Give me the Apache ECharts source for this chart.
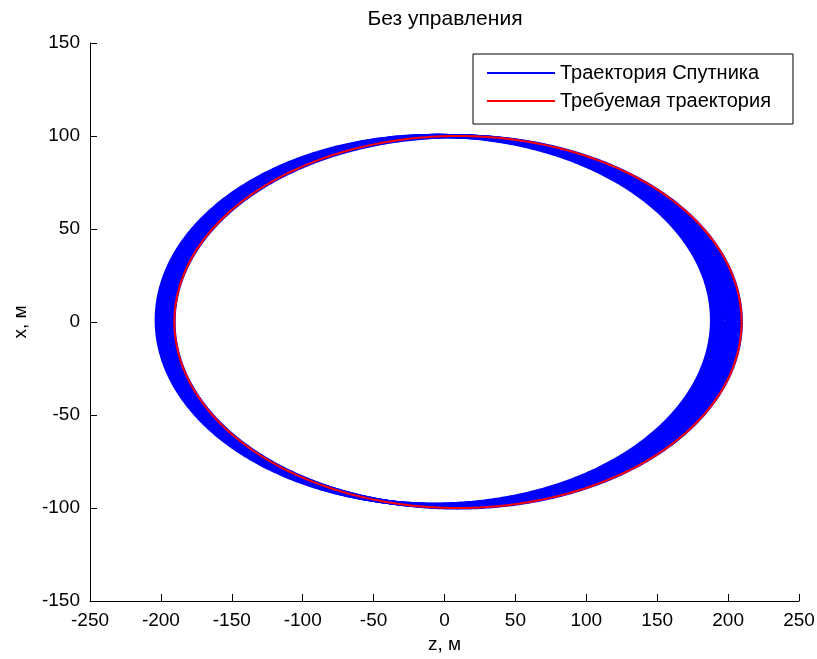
<!DOCTYPE html>
<html>
<head>
<meta charset="utf-8">
<script src="https://cdn.jsdelivr.net/npm/echarts@6/dist/echarts.min.js"></script>
<style>
html,body{margin:0;padding:0;background:#fff;}
#chart{width:817px;height:659px;}
</style>
</head>
<body>
<div id="chart"></div>
<script>
// ---- data ----
const titleText = 'Без управления';
const xAxisName = 'z, м';
const yAxisName = 'x, м';
const seriesNames = ['Траектория Спутника', 'Требуемая траектория'];
const zTicks = [-250, 250, 50];   // min, max, step
const xTicks = [-150, 150, 50];
// satellite orbits (band): [centre z, centre x, semi-axis z, semi-axis x]
const satelliteOrbits = [
  [9.0, 0.0, 200.0, 99.8],
  [7.2, 0.2, 199.4, 99.7],
  [5.4, 0.3, 199.0, 99.6],
  [3.6, 0.4, 198.5, 99.6],
  [1.8, 0.5, 198.0, 99.5],
  [0.0, 0.6, 197.5, 99.4],
  [-1.8, 0.7, 197.0, 99.4],
  [-3.6, 0.8, 196.6, 99.3],
  [-5.4, 0.9, 196.2, 99.2],
  [-7.2, 1.0, 195.8, 99.1]
];
// required trajectory: [centre z, centre x, semi-axis z, semi-axis x]
const requiredOrbit = [
  [9.5, 0.0, 200.0, 100.0]
];

const FONT = "'Liberation Sans', Arial, sans-serif";
const chart = echarts.init(document.getElementById('chart'), null, {renderer: 'canvas'});

function ellipseRenderer(lineWidth) {
  return function (params, api) {
    const cz = api.value(0), cx = api.value(1), a = api.value(2), b = api.value(3);
    const pts = [];
    for (let k = 0; k <= 720; k++) {
      const t = k * Math.PI / 360;
      pts.push(api.coord([cz + a * Math.cos(t), cx + b * Math.sin(t)]));
    }
    return {
      type: 'polyline',
      shape: {points: pts},
      style: {stroke: api.visual('color'), lineWidth: lineWidth, fill: null}
    };
  };
}

const axisCommon = {
  axisLine: {show: true, onZero: false, lineStyle: {color: '#000', width: 1}},
  axisTick: {show: true, inside: true, length: 7, lineStyle: {color: '#000'}},
  splitLine: {show: false},
  axisLabel: {color: '#000', fontFamily: FONT, fontSize: 19},
  nameTextStyle: {color: '#000', fontFamily: FONT, fontSize: 19}
};

chart.setOption({
  animation: false,
  backgroundColor: '#fff',
  title: {
    text: titleText,
    left: 445,
    textAlign: 'center',
    top: 9,
    padding: 0,
    textStyle: {fontFamily: FONT, fontSize: 21, fontWeight: 'normal', color: '#000'}
  },
  grid: {left: 90, right: 18, top: 43, bottom: 58, containLabel: false, outerBoundsMode: 'none'},
  legend: {
    orient: 'vertical',
    left: 473,
    top: 54,
    padding: [9, 22, 13, 14],
    itemGap: 8,
    itemWidth: 68,
    itemHeight: 2,
    borderColor: '#000',
    borderWidth: 1,
    borderRadius: 0,
    backgroundColor: '#fff',
    textStyle: {fontFamily: FONT, fontSize: 20, color: '#000'},
    data: [
      {name: seriesNames[0], icon: 'rect'},
      {name: seriesNames[1], icon: 'rect'}
    ]
  },
  xAxis: Object.assign({}, axisCommon, {
    type: 'value',
    min: zTicks[0], max: zTicks[1], interval: zTicks[2],
    name: xAxisName,
    nameLocation: 'middle',
    nameGap: 29,
    axisLabel: Object.assign({}, axisCommon.axisLabel, {margin: 10})
  }),
  yAxis: Object.assign({}, axisCommon, {
    type: 'value',
    min: xTicks[0], max: xTicks[1], interval: xTicks[2],
    name: yAxisName,
    nameLocation: 'middle',
    nameGap: 60,
    axisLabel: Object.assign({}, axisCommon.axisLabel, {margin: 10})
  }),
  series: [
    {
      name: seriesNames[0],
      type: 'custom',
      coordinateSystem: 'cartesian2d',
      itemStyle: {color: '#0000ff'},
      encode: {x: 0, y: 1},
      renderItem: ellipseRenderer(4),
      data: satelliteOrbits,
      z: 2
    },
    {
      name: seriesNames[1],
      type: 'custom',
      coordinateSystem: 'cartesian2d',
      itemStyle: {color: '#ff0000'},
      encode: {x: 0, y: 1},
      renderItem: ellipseRenderer(2),
      data: requiredOrbit,
      z: 3
    }
  ]
});
</script>
</body>
</html>
